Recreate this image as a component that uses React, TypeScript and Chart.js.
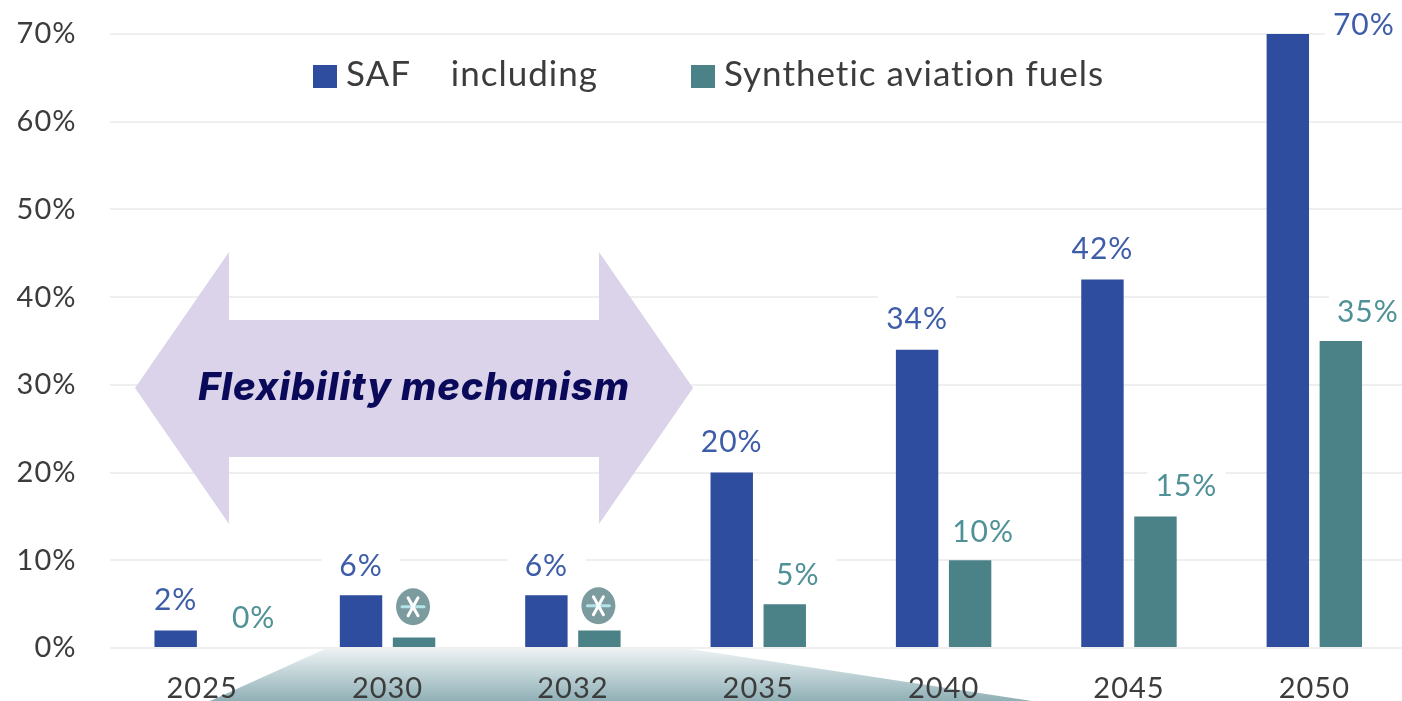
import React, { useEffect, useRef } from "react";
import { Chart, registerables } from "chart.js";

Chart.register(...registerables);

const years = ["2025", "2030", "2032", "2035", "2040", "2045", "2050"];
const safValues = [2, 6, 6, 20, 34, 42, 70];
const syntheticValues = [0, 1.2, 2, 5, 10, 15, 35];
const safLabels = ["2%", "6%", "6%", "20%", "34%", "42%", "70%"];
const syntheticLabels = ["0%", "", "", "5%", "10%", "15%", "35%"];
const yTicks = [0, 10, 20, 30, 40, 50, 60, 70];
const safSeriesName = "SAF    including";
const syntheticSeriesName = "Synthetic aviation fuels";
const flexibilityText = "Flexibility mechanism";

const BLUE = "#2f4d9e";
const TEAL = "#4a8288";
const BLUE_TEXT = "#3e5da9";
const TEAL_TEXT = "#4f9197";
const AXIS_TEXT = "#3c3c3c";
const FONT = "Lato";

const safOffsets = [[0, -30], [0, -29], [0, -29], [0, -30], [0, -30], [0, -30], [76, -9]];
const synOffsets = [[25, -30], [0, 0], [0, 0], [13, -29], [13, -28], [31, -30], [27, -29]];

const decorations = {
  id: "decorations",
  beforeLayout(chart: any) {
    chart.ctx.letterSpacing = "1px";
  },
  beforeDraw(chart: any) {
    const ctx = chart.ctx;
    ctx.save();
    const g = ctx.createLinearGradient(0, 648, 0, 701);
    g.addColorStop(0, "#eef3f5");
    g.addColorStop(1, "#8fb0b6");
    ctx.fillStyle = g;
    ctx.beginPath();
    ctx.moveTo(325, 649);
    ctx.lineTo(690, 649);
    ctx.lineTo(1032, 701);
    ctx.lineTo(210, 701);
    ctx.closePath();
    ctx.fill();
    ctx.restore();
  },
  beforeDatasetsDraw(chart: any) {
    const ctx = chart.ctx;
    ctx.save();
    // white halos behind value labels
    ctx.fillStyle = "#ffffff";
    const halo = (ds: number, offsets: number[][], labels: string[]) => {
      const meta = chart.getDatasetMeta(ds);
      labels.forEach((t, i) => {
        if (!t) return;
        const el = meta.data[i];
        const cx = el.x + offsets[i][0];
        const cy = el.y + offsets[i][1];
        ctx.fillRect(cx - 39, cy - 24, 78, 48);
      });
    };
    halo(0, safOffsets, safLabels);
    halo(1, synOffsets, syntheticLabels);

    // double arrow
    ctx.fillStyle = "#dad3e9";
    ctx.beginPath();
    ctx.moveTo(135, 388);
    ctx.lineTo(229, 252);
    ctx.lineTo(229, 320);
    ctx.lineTo(599, 320);
    ctx.lineTo(599, 252);
    ctx.lineTo(693, 388);
    ctx.lineTo(599, 524);
    ctx.lineTo(599, 457);
    ctx.lineTo(229, 457);
    ctx.lineTo(229, 524);
    ctx.closePath();
    ctx.fill();
    ctx.letterSpacing = "0.9px";
    ctx.fillStyle = "#0b0a5a";
    ctx.font = "italic 800 38px Inter";
    ctx.textAlign = "center";
    ctx.textBaseline = "middle";
    ctx.fillText(flexibilityText, 414, 389);
    ctx.restore();
  },
  afterDatasetsDraw(chart: any) {
    const ctx = chart.ctx;
    ctx.save();
    ctx.font = `30px ${FONT}`;
    ctx.textAlign = "center";
    ctx.textBaseline = "middle";
    const drawLabels = (ds: number, offsets: number[][], labels: string[], color: string) => {
      const meta = chart.getDatasetMeta(ds);
      ctx.fillStyle = color;
      labels.forEach((t, i) => {
        if (!t) return;
        const el = meta.data[i];
        ctx.fillText(t, el.x + offsets[i][0], el.y + offsets[i][1]);
      });
    };
    drawLabels(0, safOffsets, safLabels, BLUE_TEXT);
    drawLabels(1, synOffsets, syntheticLabels, TEAL_TEXT);

    // asterisk badges over the two unlabelled synthetic bars
    const meta = chart.getDatasetMeta(1);
    syntheticLabels.forEach((t, i) => {
      if (t) return;
      const el = meta.data[i];
      const cx = el.x - 1;
      const cy = chart.scales.y.getPixelForValue(4.7) + (i === 2 ? -1 : 0);
      ctx.fillStyle = "#7c9b9f";
      ctx.beginPath();
      ctx.ellipse(cx, cy, 17, 18.5, 0, 0, Math.PI * 2);
      ctx.fill();
      ctx.lineCap = "round";
      ctx.lineWidth = 3;
      ctx.strokeStyle = "#b5e3ea";
      ctx.beginPath();
      ctx.moveTo(cx - 11, cy);
      ctx.lineTo(cx + 11, cy);
      ctx.stroke();
      ctx.strokeStyle = "#ffffff";
      ctx.beginPath();
      ctx.moveTo(cx - 5, cy - 9);
      ctx.lineTo(cx + 5, cy + 9);
      ctx.moveTo(cx + 5, cy - 9);
      ctx.lineTo(cx - 5, cy + 9);
      ctx.stroke();
    });

    // legend, from the dataset names and colours
    const legendX = [313, 691];
    ctx.font = `35px ${FONT}`;
    ctx.textAlign = "left";
    chart.data.datasets.forEach((d: any, i: number) => {
      ctx.fillStyle = d.backgroundColor;
      ctx.fillRect(legendX[i], 65, 24, 23);
      ctx.fillStyle = AXIS_TEXT;
      ctx.fillText(d.label, legendX[i] + 33, 75);
    });
    ctx.restore();
  },
};

export default function App() {
  const ref = useRef<HTMLCanvasElement>(null);
  useEffect(() => {
    const chart = new Chart(ref.current as HTMLCanvasElement, {
      type: "bar",
      data: {
        labels: years,
        datasets: [
          { label: safSeriesName, data: safValues, backgroundColor: BLUE, barPercentage: 0.8, categoryPercentage: 0.572 },
          { label: syntheticSeriesName, data: syntheticValues, backgroundColor: TEAL, barPercentage: 0.8, categoryPercentage: 0.572 },
        ],
      },
      options: {
        responsive: false,
        animation: false,
        layout: { padding: { top: 34, right: 13, left: 0, bottom: 0 } },
        plugins: {
          tooltip: { enabled: false },
          legend: { display: false },
        },
        scales: {
          x: {
            grid: { display: false },
            border: { display: false },
            ticks: {
              color: AXIS_TEXT,
              font: { family: FONT, size: 29 },
              padding: 15,
              maxRotation: 0,
              autoSkip: false,
            },
            afterFit(s: any) {
              s.height = 53;
              s.paddingLeft = 0;
              s.paddingRight = 0;
            },
          },
          y: {
            min: 0,
            max: 70,
            afterBuildTicks(s: any) {
              s.ticks = yTicks.map((value) => ({ value }));
            },
            grid: { color: "#efefef", lineWidth: 2, drawTicks: false },
            border: { display: false },
            ticks: {
              color: AXIS_TEXT,
              font: { family: FONT, size: 29 },
              padding: 33,
              callback: (v: any) => `${v}%`,
            },
            afterFit(s: any) {
              s.width = 109.5;
              s.paddingTop = 0;
              s.paddingBottom = 0;
            },
          },
        },
      },
      plugins: [decorations],
    } as any);
    return () => chart.destroy();
  }, []);
  return (
    <div style={{ position: "fixed", left: 0, top: 0, width: 1402, height: 701, overflow: "hidden", background: "#fff" }}>
      <canvas ref={ref} width={1420} height={701} style={{ display: "block" }} />
    </div>
  );
}
